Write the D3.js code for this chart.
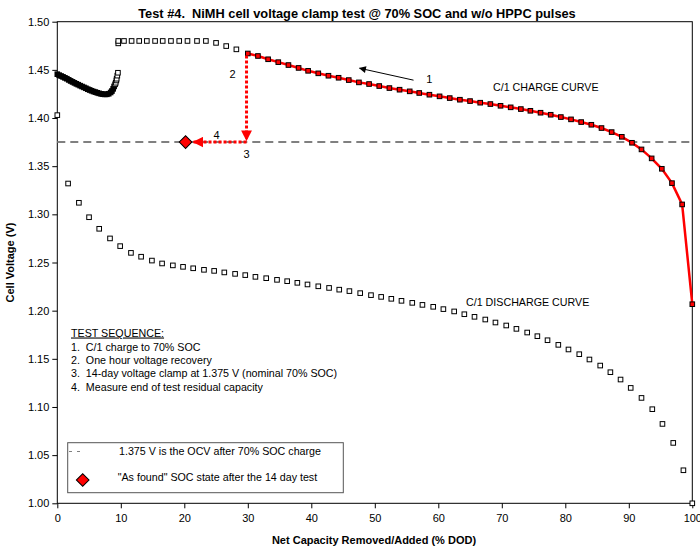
<!DOCTYPE html>
<html>
<head>
<meta charset="utf-8">
<script src="https://cdn.jsdelivr.net/npm/d3@7"></script>
<style>
  body { margin: 0; background: #fff; }
  text { font-family: "Liberation Sans", Arial, sans-serif; fill: #000; white-space: pre; }
  .axis text { font-size: 11px; }
  .axis path { display: none; }
  .axis line { stroke: #000; }
</style>
</head>
<body>
<svg id="chart" width="700" height="550"></svg>
<script>
// ---- data ----
// C/1 charge curve (red line), % DOD and volts
var chargeX = [30.0, 31.6, 33.2, 34.8, 36.4, 38.0, 39.5, 41.1, 42.7, 44.3, 45.9, 47.5, 49.1, 50.7, 52.3,
               53.9, 55.5, 57.0, 58.6, 60.2, 61.8, 63.4, 65.0, 66.6, 68.2, 69.8, 71.4, 73.0, 74.5, 76.1,
               77.7, 79.3, 80.9, 82.5, 84.1, 85.7, 87.3, 88.9, 90.5, 92.0, 93.6, 95.2, 96.8, 98.4, 100.0];
var chargeV = [1.467, 1.4644, 1.461, 1.458, 1.455, 1.452, 1.449, 1.4464, 1.4439, 1.4418, 1.4394, 1.437, 1.4353, 1.4332, 1.4311,
               1.4294, 1.4277, 1.426, 1.4242, 1.4225, 1.4207, 1.419, 1.4176, 1.4159, 1.4145, 1.4127, 1.4111, 1.4093, 1.4075, 1.4055,
               1.4034, 1.401, 1.3986, 1.3958, 1.393, 1.3896, 1.3854, 1.3805, 1.3743, 1.3674, 1.3581, 1.3473, 1.3324, 1.3103, 1.2067];

// rest of the charge (clamped at the top), open squares
var clampX = [9.6, 9.6, 10.5, 11.7, 12.9, 14.1, 15.4, 16.6, 17.9, 19.2, 20.5, 22.0, 23.4, 25.0, 26.6, 28.2];
var clampV = [1.4775, 1.480, 1.480, 1.480, 1.480, 1.480, 1.480, 1.480, 1.480, 1.480, 1.480, 1.480, 1.480, 1.478, 1.4747, 1.4713];

// one hour recovery (dense squares)
var recoveryX = [0, 0.3, 0.6, 0.9, 1.2, 1.5, 1.8, 2.1, 2.4, 2.7, 3.0, 3.3, 3.6, 3.9, 4.2, 4.5, 4.8, 5.1, 5.4, 5.7,
                 6.0, 6.3, 6.6, 6.9, 7.2, 7.5, 7.8, 8.1, 8.4, 8.6, 8.8, 8.95, 9.1, 9.2, 9.3, 9.35, 9.45, 9.55];
var recoveryV = [1.4455, 1.4445, 1.4436, 1.4427, 1.4417, 1.4408, 1.4396, 1.4385, 1.4375, 1.4365, 1.4355, 1.4346, 1.4336, 1.4327, 1.4318, 1.4309, 1.4299, 1.4291, 1.4283, 1.4275,
                 1.4269, 1.4262, 1.4256, 1.4251, 1.4247, 1.4245, 1.4246, 1.4252, 1.4265, 1.428, 1.4303, 1.4328, 1.435, 1.4366, 1.439, 1.4408, 1.444, 1.447];

// C/1 discharge curve, open squares
var dischargeX = [0, 1.7, 3.4, 5.0, 6.6, 8.3, 9.9, 11.6, 13.2, 14.9, 16.5, 18.2, 19.8, 21.4, 23.1, 24.7, 26.3, 28.0, 29.6, 31.2,
                  32.9, 34.6, 36.2, 37.8, 39.4, 41.1, 42.8, 44.4, 46.0, 47.7, 49.4, 51.0, 52.6, 54.2, 55.9, 57.5, 59.2, 60.8, 62.5, 64.1,
                  65.7, 67.4, 69.0, 70.7, 72.3, 74.0, 75.6, 77.2, 78.9, 80.5, 82.2, 83.8, 85.5, 87.1, 88.7, 90.3, 92.0, 93.7, 95.3, 97.0,
                  98.6, 100];
var dischargeV = [1.403, 1.332, 1.312, 1.297, 1.285, 1.275, 1.267, 1.260, 1.256, 1.252, 1.249, 1.247, 1.2455, 1.244, 1.2424, 1.2413, 1.2397, 1.2382, 1.2369, 1.2351,
                  1.2337, 1.232, 1.2306, 1.2289, 1.2272, 1.2253, 1.2236, 1.2218, 1.2203, 1.2182, 1.2161, 1.2143, 1.2123, 1.2102, 1.2081, 1.206, 1.204, 1.2016, 1.1992, 1.1963,
                  1.1936, 1.1908, 1.1877, 1.1846, 1.1811, 1.1773, 1.1735, 1.1693, 1.1645, 1.1597, 1.1548, 1.1493, 1.143, 1.1361, 1.1285, 1.1198, 1.1094, 1.0977, 1.0824, 1.0627,
                  1.0343, 1.000];

var ocv = 1.375;             // dashed line
var asFound = [20.2, 1.375]; // red diamond
var clampDod = 29.8;         // where step 2 / 3 happen

var xTicks = [0, 10, 20, 30, 40, 50, 60, 70, 80, 90, 100];
var yTicks = [1.00, 1.05, 1.10, 1.15, 1.20, 1.25, 1.30, 1.35, 1.40, 1.45, 1.50];

var sequence = ["1.  C/1 charge to 70% SOC",
                "2.  One hour voltage recovery",
                "3.  14-day voltage clamp at 1.375 V (nominal 70% SOC)",
                "4.  Measure end of test residual capacity"];

// ---- layout ----
var svg = d3.select("#chart");
var plotLeft = 57.3, plotRight = 692.3, plotTop = 21.7, plotBottom = 503.3;

var x = d3.scaleLinear().domain([0, 100]).range([plotLeft, plotRight]);
var y = d3.scaleLinear().domain([1.0, 1.5]).range([plotBottom, plotTop]);

function zip(xs, vs) { return xs.map(function(d, i) { return [d, vs[i]]; }); }

// title
svg.append("text")
   .attr("x", 357).attr("y", 18)
   .attr("text-anchor", "middle")
   .style("font-size", "12.8px").style("font-weight", "bold")
   .text("Test #4.  NiMH cell voltage clamp test @ 70% SOC and w/o HPPC pulses");

// axes
svg.append("g").attr("class", "axis")
   .attr("transform", "translate(" + plotLeft + ",0)")
   .call(d3.axisLeft(y).tickValues(yTicks).tickSize(5).tickSizeOuter(0).tickFormat(d3.format(".2f")))
   .selectAll("text").attr("x", -8);

svg.append("g").attr("class", "axis")
   .attr("transform", "translate(0," + plotBottom + ")")
   .call(d3.axisBottom(x).tickValues(xTicks).tickSize(5).tickSizeOuter(0))
   .selectAll("text").attr("y", 11);

// frame
svg.append("rect")
   .attr("x", plotLeft).attr("y", plotTop)
   .attr("width", plotRight - plotLeft).attr("height", plotBottom - plotTop)
   .attr("fill", "none").attr("stroke", "#000").attr("stroke-width", 1);

// axis titles
svg.append("text")
   .attr("x", 374).attr("y", 544)
   .attr("text-anchor", "middle")
   .style("font-size", "11px").style("font-weight", "bold")
   .text("Net Capacity Removed/Added (% DOD)");

svg.append("text")
   .attr("transform", "translate(14," + ((plotTop + plotBottom) / 2) + ") rotate(-90)")
   .attr("text-anchor", "middle")
   .style("font-size", "11px").style("font-weight", "bold")
   .text("Cell Voltage (V)");

// OCV dashed line
svg.append("line")
   .attr("x1", x(0)).attr("x2", x(100))
   .attr("y1", y(ocv)).attr("y2", y(ocv))
   .attr("stroke", "#808080").attr("stroke-width", 2)
   .attr("stroke-dasharray", "8,5");

// square markers helper
function squares(data, fill) {
  svg.append("g").selectAll("rect")
     .data(data)
     .enter()
     .append("rect")
     .attr("x", function(d) { return x(d[0]) - 2.3; })
     .attr("y", function(d) { return y(d[1]) - 2.3; })
     .attr("width", 4.6).attr("height", 4.6)
     .attr("fill", fill)
     .attr("stroke", "#000").attr("stroke-width", 1);
}

squares(zip(dischargeX, dischargeV), "#fff");
squares(zip(clampX, clampV), "#fff");
// recovery squares overlap so much they read as a solid band, only the last few stand apart
squares(zip(recoveryX, recoveryV), function(d) { return d[0] < 9.1 ? "#000" : "#fff"; });

// charge curve
var charge = zip(chargeX, chargeV);
svg.append("path")
   .datum(charge)
   .attr("d", d3.line().x(function(d) { return x(d[0]); }).y(function(d) { return y(d[1]); }))
   .attr("fill", "none").attr("stroke", "#ff0000").attr("stroke-width", 2.5);
squares(charge, "#ff0000");

// arrow heads
var defs = svg.append("defs");
defs.append("marker").attr("id", "redHead")
    .attr("viewBox", "0 0 10 10").attr("refX", 9).attr("refY", 5)
    .attr("markerWidth", 3.6).attr("markerHeight", 3.6).attr("markerUnits", "strokeWidth")
    .attr("orient", "auto")
    .append("path").attr("d", "M0,0L10,5L0,10z").attr("fill", "#ff0000");
defs.append("marker").attr("id", "blackHead")
    .attr("viewBox", "0 0 10 10").attr("refX", 9).attr("refY", 5)
    .attr("markerWidth", 10).attr("markerHeight", 7).attr("markerUnits", "userSpaceOnUse")
    .attr("orient", "auto")
    .append("path").attr("d", "M0,0L10,5L0,10z").attr("fill", "#000");

// step 2: voltage drops to the clamp
svg.append("line")
   .attr("x1", x(clampDod)).attr("x2", x(clampDod))
   .attr("y1", y(chargeV[0]) + 2).attr("y2", y(ocv) - 2)
   .attr("stroke", "#ff0000").attr("stroke-width", 3)
   .attr("stroke-dasharray", "3,2")
   .attr("marker-end", "url(#redHead)");

// step 4: residual capacity
svg.append("line")
   .attr("x1", x(clampDod)).attr("x2", x(asFound[0]) + 8)
   .attr("y1", y(ocv)).attr("y2", y(ocv))
   .attr("stroke", "#ff0000").attr("stroke-width", 3)
   .attr("stroke-dasharray", "3,2")
   .attr("marker-end", "url(#redHead)");

// as found diamond
svg.append("path")
   .attr("d", d3.symbol().type(d3.symbolSquare).size(80))
   .attr("transform", "translate(" + x(asFound[0]) + "," + y(asFound[1]) + ") rotate(45)")
   .attr("fill", "#ff0000").attr("stroke", "#000").attr("stroke-width", 1);

// step 1 arrow
svg.append("line")
   .attr("x1", x(56.1)).attr("y1", y(1.4393))
   .attr("x2", x(47.6)).attr("y2", y(1.4517))
   .attr("stroke", "#000").attr("stroke-width", 1)
   .attr("marker-end", "url(#blackHead)");

// step numbers
var stepLabels = [["1", 58.6, 1.4407], ["2", 27.6, 1.4452], ["3", 29.8, 1.363], ["4", 25.1, 1.3822]];
svg.selectAll("stepLabels")
   .data(stepLabels)
   .enter()
   .append("text")
   .attr("x", function(d) { return x(d[1]); })
   .attr("y", function(d) { return y(d[2]) + 4; })
   .attr("text-anchor", "middle")
   .style("font-size", "11px")
   .text(function(d) { return d[0]; });

// curve labels
svg.append("text").attr("x", 493).attr("y", 90.5)
   .style("font-size", "10.7px").text("C/1 CHARGE CURVE");
svg.append("text").attr("x", 466).attr("y", 306)
   .style("font-size", "10.7px").text("C/1 DISCHARGE CURVE");

// test sequence
svg.append("text").attr("x", 71).attr("y", 336.5)
   .style("font-size", "10.7px").style("text-decoration", "underline")
   .text("TEST SEQUENCE:");
svg.selectAll("seqLines")
   .data(sequence)
   .enter()
   .append("text")
   .attr("x", 71)
   .attr("y", function(d, i) { return 350.5 + 13.4 * i; })
   .style("font-size", "10.7px")
   .text(function(d) { return d; });

// legend box
var legend = svg.append("g");
legend.append("rect")
   .attr("x", 67.7).attr("y", 442.7).attr("width", 275.6).attr("height", 50)
   .attr("fill", "#fff").attr("stroke", "#555").attr("stroke-width", 1);
legend.append("line")
   .attr("x1", 69).attr("x2", 81).attr("y1", 451.5).attr("y2", 451.5)
   .attr("stroke", "#808080").attr("stroke-width", 1).attr("stroke-dasharray", "3,5");
legend.append("text").attr("x", 119).attr("y", 454.5)
   .style("font-size", "10.7px").text("1.375 V is the OCV after 70% SOC charge");
legend.append("path")
   .attr("d", d3.symbol().type(d3.symbolSquare).size(80))
   .attr("transform", "translate(82.7,480) rotate(45)")
   .attr("fill", "#ff0000").attr("stroke", "#000").attr("stroke-width", 1);
legend.append("text").attr("x", 117.7).attr("y", 480.5)
   .style("font-size", "10.7px").text("\"As found\" SOC state after the 14 day test");
</script>
</body>
</html>
